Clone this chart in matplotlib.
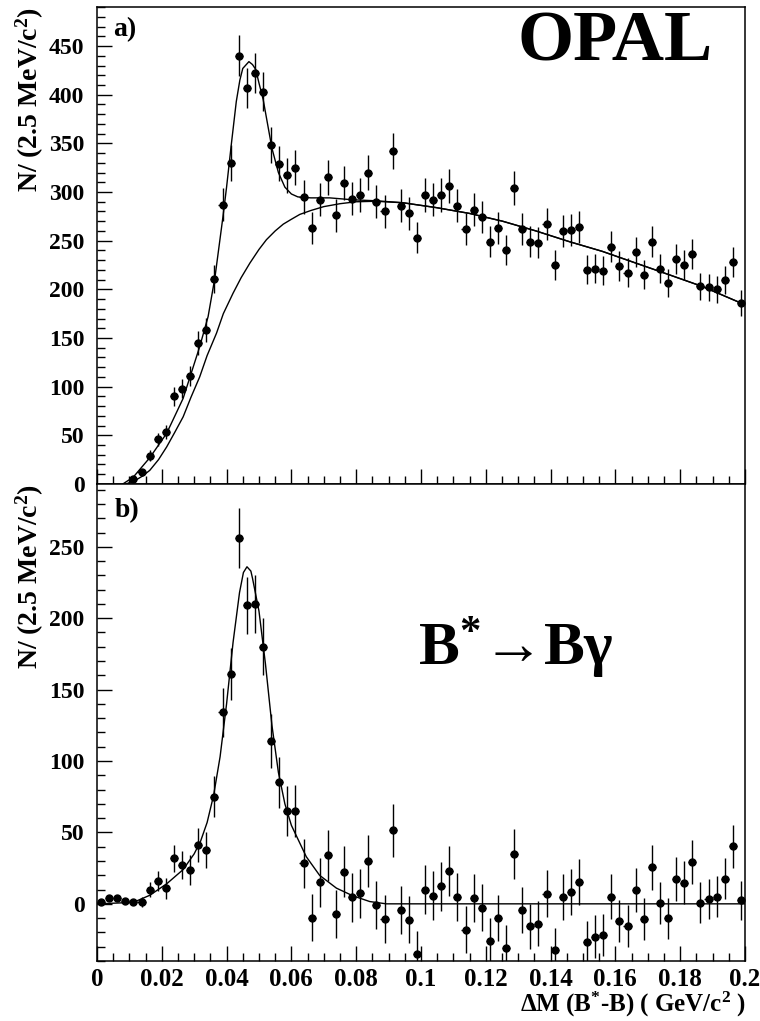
"""
OPAL B* -> B gamma: Delta M spectrum with fit (a) and background-subtracted signal (b).
"""
import numpy as np
import matplotlib.pyplot as plt
from matplotlib.ticker import MultipleLocator, FuncFormatter

plt.rcParams['font.family'] = ['Liberation Serif', 'DejaVu Serif']
plt.rcParams['font.weight'] = 'bold'
plt.rcParams['axes.labelweight'] = 'bold'
plt.rcParams['mathtext.fontset'] = 'custom'
plt.rcParams['mathtext.rm'] = 'Liberation Serif:bold'
plt.rcParams['mathtext.it'] = 'Liberation Serif:bold'
plt.rcParams['mathtext.bf'] = 'Liberation Serif:bold'

# binning: 80 bins of 2.5 MeV from 0 to 0.2 GeV
bin_width = 0.0025
bin_edges = np.linspace(0.0, 0.2, 81)
bin_centers = 0.5 * (bin_edges[:-1] + bin_edges[1:])

# panel a) raw counts per bin
counts_a = [1, 4, 4, 2, 5, 12, 29, 46, 53, 90,
            98, 111, 145, 158, 211, 287, 330, 440, 407, 422,
            403, 348, 329, 317, 325, 295, 263, 292, 315, 276,
            309, 293, 297, 320, 290, 280, 342, 286, 278, 253,
            297, 292, 297, 306, 286, 262, 282, 274, 249, 263,
            240, 304, 262, 249, 248, 267, 225, 260, 261, 264,
            220, 221, 219, 244, 224, 217, 238, 215, 249, 221,
            207, 231, 225, 236, 203, 202, 200, 210, 228, 186]

# panel b) background-subtracted counts per bin
counts_b = [1, 4, 4, 2, 1.4, 1.4, 10, 16, 11, 32,
            27, 24, 41, 38, 75, 134, 161, 256, 209, 210,
            180, 114, 85, 65, 65, 28.5, -9.6, 15, 34, -7,
            22.6, 4.7, 7.5, 30, -0.7, -10.7, 51.6, -4.2, -11, -35,
            9.8, 5.8, 12.4, 23, 5, -18, 4.4, -2.8, -25.7, -9.8,
            -30.6, 35, -4.4, -15.6, -14, 7.2, -32, 4.9, 8.4, 15.4,
            -27, -23, -22, 5, -12, -15.6, 9.4, -10.7, 25.5, 0.7,
            -10, 17.3, 14.7, 29, 0.7, 3.3, 5, 17.7, 40.4, 2.6]

# fitted curves
total_x = [0.008, 0.0112, 0.0163, 0.0215, 0.0266, 0.0317, 0.0343, 0.0364,
           0.0389, 0.040, 0.0415, 0.043, 0.0441, 0.045, 0.0469, 0.048, 0.049,
           0.050, 0.0513, 0.052, 0.054, 0.056, 0.058, 0.060, 0.062, 0.066,
           0.0718, 0.079, 0.0862, 0.0944, 0.1047, 0.115, 0.1252, 0.1355,
           0.1458, 0.156, 0.1663, 0.1766, 0.1868, 0.1987, 0.2]
total_y = [0, 7, 27, 52, 88, 141, 172, 212,
           275, 305, 350, 393, 415, 427, 434, 431, 426,
           412, 395, 382, 345, 320, 305, 298, 295, 294,
           294, 292, 291, 289, 284, 278, 270, 260,
           249, 239, 227, 215, 203, 186, 184]

bkg_x = [0.009, 0.012, 0.014, 0.0163, 0.019, 0.0215, 0.024, 0.0266,
         0.029, 0.0317, 0.034, 0.0369, 0.039, 0.042, 0.0445, 0.0472,
         0.050, 0.0523, 0.055, 0.0575, 0.060, 0.0626, 0.066, 0.070,
         0.075, 0.080, 0.086, 0.0944, 0.1047, 0.115, 0.1252, 0.1355,
         0.1458, 0.156, 0.1663, 0.1766, 0.1868, 0.1987, 0.2]
bkg_y = [0, 4, 8, 14, 25, 38, 53, 69,
         89, 110, 132, 155, 175, 196, 212, 227,
         241, 251, 260, 267, 272, 277, 281, 285,
         288, 290, 290.5, 289, 284, 278, 270, 260,
         249, 239, 227, 215, 203, 186, 184]

sig_x = [0.0, 0.0112, 0.0163, 0.0215, 0.0266, 0.030, 0.032, 0.034,
         0.036, 0.038, 0.040, 0.042, 0.044, 0.0452, 0.0463, 0.0475,
         0.048, 0.050, 0.052, 0.054, 0.056, 0.058, 0.060, 0.0646,
         0.0687, 0.0739, 0.079, 0.0842, 0.0893, 0.2]
sig_y = [0, 1, 6, 14, 24, 35, 44, 57,
         76, 103, 140, 183, 218, 232, 236, 233,
         228, 205, 168, 125, 92, 70, 55, 33,
         20, 11, 5.6, 1.6, 0, 0]

counts_a = np.array(counts_a, dtype=float)
counts_b = np.array(counts_b, dtype=float)
errors = np.sqrt(counts_a)

fig = plt.figure(figsize=(7.6, 10.21), dpi=100)
ax_a = fig.add_axes([0.1276, 0.526, 0.8526, 0.467])
ax_b = fig.add_axes([0.1276, 0.0588, 0.8526, 0.4672])

fmt = FuncFormatter(lambda v, p: f'{v:g}')


def style_axis(ax):
    ax.set_xlim(0, 0.2)
    ax.xaxis.set_major_locator(MultipleLocator(0.02))
    ax.xaxis.set_minor_locator(MultipleLocator(0.005))
    ax.yaxis.set_major_locator(MultipleLocator(50))
    ax.yaxis.set_minor_locator(MultipleLocator(10))
    ax.xaxis.set_major_formatter(fmt)
    ax.yaxis.set_major_formatter(fmt)
    ax.tick_params(which='both', direction='in', top=False, right=False,
                   width=1.0, labelsize=18, pad=8)
    ax.tick_params(axis='y', labelsize=17, pad=9)
    ax.tick_params(axis='x', pad=5)
    ax.tick_params(which='major', length=11)
    ax.tick_params(which='minor', length=6)
    for sp in ax.spines.values():
        sp.set_linewidth(1.1)
    ax.set_ylabel(r'N/ (2.5 MeV/c$^{2}$)', fontsize=20, loc='top', labelpad=2)


# a) data + total fit + background
mask = counts_a >= 5
ax_a.errorbar(bin_centers[mask], counts_a[mask], yerr=errors[mask],
              xerr=bin_width / 2, fmt='o', color='black', markersize=5,
              elinewidth=1.0, capsize=0)
ax_a.plot(total_x, total_y, color='black', linewidth=1.0)
ax_a.plot(bkg_x, bkg_y, color='black', linewidth=1.0)
style_axis(ax_a)
ax_a.set_ylim(0, 490)
ax_a.tick_params(labelbottom=False)
ax_a.text(0.025, 0.952, 'a)', transform=ax_a.transAxes, fontsize=20,
          va='center', ha='left')
ax_a.text(0.80, 0.889, 'OPAL', transform=ax_a.transAxes, fontsize=52,
          va='baseline', ha='center')

# b) background subtracted signal
ax_b.errorbar(bin_centers, counts_b, yerr=errors, xerr=bin_width / 2,
              fmt='o', color='black', markersize=5, elinewidth=1.0, capsize=0)
ax_b.plot(sig_x, sig_y, color='black', linewidth=1.0)
style_axis(ax_b)
ax_b.set_ylim(-40, 294)
ax_b.text(0.028, 0.945, 'b)', transform=ax_b.transAxes, fontsize=20,
          va='center', ha='left')
ax_b.text(0.647, 0.62, 'B$^{*}$→Bγ', transform=ax_b.transAxes,
          fontsize=44, va='baseline', ha='center')
fig.text(0.981, 0.002, r'$\Delta$M (B$^{*}$-B) ( GeV/c$^{2}$ )', fontsize=18,
         ha='right', va='bottom')

fig.savefig('out.png', dpi=100)
